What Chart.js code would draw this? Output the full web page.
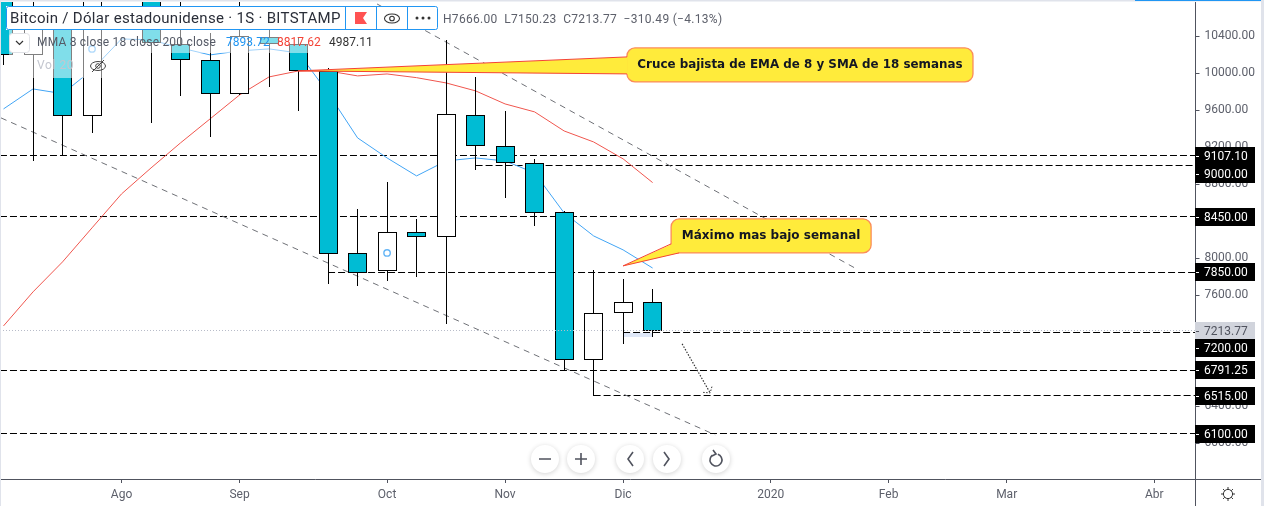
<!DOCTYPE html>
<html><head><meta charset="utf-8">
<style>html,body{margin:0;padding:0;background:#fff;overflow:hidden}canvas{display:block}</style>
<script src="https://cdn.jsdelivr.net/npm/chart.js@4"></script>
</head><body><canvas id="c" width="1264" height="506"></canvas>
<script>
// ---- data (weekly candles, index = week number) ----
const weeks  = [0,1,2,3,5,6,7,8,9,10,11,12,13,14,15,16,17,18,19,20,21,22];
const opens  = [10800,10198,10652,9533,10900,10317,10138,9771,10392,10320,10019,8054,7860,8281,8234,9546,9211,9027,8501,6897,7406,7524.26];
const closes = [10198,10652,9533,10850,10331,10138,9771,10403,10311,10019,8047,7844,8281,8234,9557,9211,9027,8493,6897,7406,7524.26,7213.77];
const highs  = [10900,10900,10700,10900,11000,10900,10436,10900,10479,10392,10052,8533,8825,8422,10357,9960,9592,9074,8510,7870,7776,7666];
const lows   = [10090,9052,9106,9355,9463,9755,9311,9765,9852,9592,7726,7701,7755,7801,7287,8955,8655,8349,6779,6508,7077,7150.23];
const maWeeks = [0,1,2,3,4,5,6,7,8,9,10,11,12,13,14,15,16,17,18,19,20,21,22];
const ma8  = [9614,9830,9779,10036,10371,10360,10274,10198,10241,10263,10219,9787,9301,9084,8890,9052,9084,9052,8922,8490,8241,8090,7893.72];
const ma18 = [7268,7636,7960,8328,8695,8976,9247,9506,9765,9960,10025,10025,9971,9992,9952,9895,9809,9668,9582,9376,9257,9074,8817.62];
const levelPrices = [9107.10,9000,8450,7850,7200,6791.25,6515,6100];
const levelStarts = [-0.12,16,-0.12,11,21,-0.12,20,-0.12];
const levelLabels = ['9107.10','9000.00','8450.00','7850.00','7200.00','6791.25','6515.00','6100.00'];
const lastPrice = 7213.77;
const trendUpperX = [12.66,28.97];
const trendUpperY = [10749,7874];
const trendLowerX = [-0.085,24.12];
const trendLowerY = [9517,6090];
const arrowX = [23.0,23.95];
const arrowY = [7074,6544];
const markerX = [3,13];
const markerY = [10263,8057];
const yTicks = [6000,6400,6800,7200,7600,8000,8400,8800,9200,9600,10000,10400];
const xTickValues = [4,8,13,17,21,26,30,34,39];
const xTickLabels = ['Ago','Sep','Oct','Nov','Dic','2020','Feb','Mar','Abr'];
const calloutTexts = ['Cruce bajista de EMA de 8 y SMA de 18 semanas','Máximo mas bajo semanal'];
const calloutTipX = [9.98,21];
const calloutTipY = [10025,7917];

// ---- layout & style ----
const xMin=-0.119, xMax=40.4, yMax=10770, yMin=5613;
const labelShift={ '9000.00':8, '7200.00':16 };
const UI='Roboto, sans-serif';
const pts=(xs,ys)=>xs.map((x,i)=>({x,y:ys[i]}));
const lineDs=(data,color,extra)=>Object.assign({type:'line',data,borderColor:color,borderWidth:1,pointRadius:0,fill:false,tension:0,order:5},extra||{});

const datasets=[];
// bodies & wicks
datasets.push({type:'bar',data:weeks.map((w,i)=>({x:w,y:[opens[i],closes[i]]})),barThickness:19,grouped:false,inflateAmount:0,
  backgroundColor:c=>c.raw.y[1]>=c.raw.y[0]?'#ffffff':'#00bcd4',borderColor:'#000',borderWidth:1,borderSkipped:false,order:1});
datasets.push({type:'bar',data:weeks.map((w,i)=>({x:w,y:[lows[i],highs[i]]})),barThickness:1,grouped:false,inflateAmount:0,
  backgroundColor:'#000',borderWidth:0,order:2});
// MAs
datasets.push(lineDs(pts(maWeeks,ma8),'#42a5f5',{order:4}));
datasets.push(lineDs(pts(maWeeks,ma18),'#f0564e',{order:4}));
// levels
levelPrices.forEach((p,i)=>datasets.push(lineDs([{x:levelStarts[i],y:p},{x:xMax,y:p}],'#000',{borderDash:[7,3],crisp:true,order:6})));
// trends
datasets.push(lineDs(pts(trendUpperX,trendUpperY),'#6f7177',{borderDash:[6,5],order:3}));
datasets.push(lineDs(pts(trendLowerX,trendLowerY),'#6f7177',{borderDash:[6,5],order:3}));
// small highlight
datasets.push(lineDs([{x:21,y:7170},{x:22,y:7170}],'#dfe8f8',{borderWidth:4,order:7}));
// last price line
datasets.push(lineDs([{x:xMin,y:lastPrice},{x:xMax,y:lastPrice}],'#b8bcc9',{borderDash:[1,2],crisp:true,order:0}));
// arrow
datasets.push(lineDs(pts(arrowX,arrowY),'#333',{borderDash:[1.5,1.5],borderWidth:1.2,order:0}));
// markers
datasets.push({type:'line',data:pts(markerX,markerY),showLine:false,pointRadius:3.2,pointBorderWidth:1.4,pointBackgroundColor:'rgba(255,255,255,0)',pointBorderColor:'#64b5f6',order:0});

function rr(ctx,x,y,w,h,r){ctx.beginPath();ctx.roundRect(x,y,w,h,r);}
function txt(ctx,s,x,y,font,color,align,sp){ctx.font=font;ctx.letterSpacing=sp||'0px';ctx.fillStyle=color;ctx.textAlign=align||'left';ctx.textBaseline='middle';ctx.fillText(s,x,y);ctx.letterSpacing='0px';}

const overlay={id:'overlay',
 beforeDatasetsDraw(chart){
  chart.getSortedVisibleDatasetMetas().forEach(m=>{
    const ds=chart.data.datasets[m.index];
    if(m.type==='bar'){m.data.forEach(el=>{el.x=Math.round(el.x-.5)+.5;el.y=Math.round(el.y);el.base=Math.round(el.base);});}
    else if(ds.crisp){m.data.forEach(el=>{el.y=Math.round(el.y-.5)+.5;});}
  });
 },
 afterDraw(chart){
  const ctx=chart.ctx,X=chart.scales.x,Y=chart.scales.y;
  ctx.save();
  // arrow head
  const ax=X.getPixelForValue(arrowX[1]),ay=Y.getPixelForValue(arrowY[1]);
  ctx.strokeStyle='#333';ctx.lineWidth=1;ctx.setLineDash([1.5,1.5]);
  ctx.beginPath();ctx.moveTo(ax-7,ay-0.5);ctx.lineTo(ax,ay);ctx.lineTo(ax+2,ay-7);ctx.stroke();ctx.setLineDash([]);

  // callouts
  const boxes=[[329,675,-23,11,[[329,-14],[329,3]]],[48,248,-47,-13,[[48,-22],[56,-13]]]];
  calloutTexts.forEach((t,i)=>{
    const tx=X.getPixelForValue(calloutTipX[i]),ty=Y.getPixelForValue(calloutTipY[i]);
    const b=boxes[i],l=tx+b[0],r=tx+b[1],tp=ty+b[2],bt=ty+b[3];
    ctx.fillStyle='#ffeb3b';
    rr(ctx,l,tp,r-l,bt-tp,8);ctx.fill();ctx.strokeStyle='#fb8c5a';ctx.lineWidth=1.3;ctx.stroke();
    ctx.beginPath();ctx.moveTo(tx+b[4][0][0]+1,ty+b[4][0][1]);ctx.lineTo(tx,ty);ctx.lineTo(tx+b[4][1][0]+(i?0:1),ty+b[4][1][1]);ctx.closePath();
    ctx.fillStyle='#ffeb3b';ctx.fill();
    ctx.strokeStyle='#f44336';ctx.lineWidth=1;
    ctx.beginPath();ctx.moveTo(tx+b[4][0][0],ty+b[4][0][1]);ctx.lineTo(tx,ty);ctx.lineTo(tx+b[4][1][0],ty+b[4][1][1]);ctx.stroke();
    txt(ctx,t,(l+r)/2,(tp+bt)/2,(i?'bold 12px':'bold 11.9px')+' "DejaVu Sans"','#131722','center');
  });

  // translucent legend rows
  ctx.fillStyle='rgba(255,255,255,.5)';
  ctx.fillRect(9,30,367,23);ctx.fillRect(9,53,103,25);
  // chevron button
  ctx.fillStyle='#fff';rr(ctx,9.5,33.5,20,19,3);ctx.fill();ctx.strokeStyle='#dfe1e6';ctx.lineWidth=1;ctx.stroke();
  ctx.strokeStyle='#333';ctx.lineWidth=1.2;ctx.beginPath();ctx.moveTo(16,41);ctx.lineTo(19.5,44.5);ctx.lineTo(23,41);ctx.stroke();
  // legend text
  txt(ctx,'MMA 8 close 18 close 200 close',37,43,'12px '+UI,'#555a66','left','0.2px');
  txt(ctx,'7893.72',226,43,'12px '+UI,'#2196f3');
  txt(ctx,'8817.62',277,43,'12px '+UI,'#f44336');
  txt(ctx,'4987.11',329,43,'12px '+UI,'#333');
  txt(ctx,'Vol 20',37,66,'12px '+UI,'#c3c6cf','left','0.6px');
  // eye crossed
  ctx.strokeStyle='#444';ctx.lineWidth=1;ctx.beginPath();ctx.ellipse(98,66,7.5,4.5,0,0,Math.PI*2);ctx.stroke();
  ctx.beginPath();ctx.arc(98,66,2.3,0,Math.PI*2);ctx.stroke();
  ctx.beginPath();ctx.moveTo(92,72);ctx.lineTo(104,60);ctx.stroke();

  // title box
  ctx.fillStyle='#fff';ctx.fillRect(6,6,432,24);
  rr(ctx,6.5,6.5,431,23,2);ctx.strokeStyle='#2196f3';ctx.lineWidth=1;ctx.stroke();
  [345.5,376.5,407.5].forEach(x=>{ctx.beginPath();ctx.moveTo(x,6);ctx.lineTo(x,30);ctx.stroke();});
  txt(ctx,'Bitcoin / Dólar estadounidense · 1S · BITSTAMP',10,19,'15px '+UI,'#2a2e39','left','0.3px');
  // flag
  ctx.fillStyle='#ff5252';ctx.beginPath();ctx.moveTo(355,12);ctx.lineTo(367,12);ctx.lineTo(363,18);ctx.lineTo(367,24);ctx.lineTo(355,24);ctx.closePath();ctx.fill();
  // eye
  ctx.strokeStyle='#333';ctx.lineWidth=1.1;ctx.beginPath();ctx.ellipse(392,18.5,7.5,4.5,0,0,Math.PI*2);ctx.stroke();
  ctx.beginPath();ctx.arc(392,18.5,2.3,0,Math.PI*2);ctx.stroke();
  // dots
  ctx.fillStyle='#333';[417,423,429].forEach(x=>{ctx.beginPath();ctx.arc(x,18,1.5,0,Math.PI*2);ctx.fill();});
  txt(ctx,'H7666.00  L7150.23  C7213.77  −310.49 (−4.13%)',443,19.5,'12px '+UI,'#5d606b','left','0.3px');

  // axis frame
  ctx.strokeStyle='#50535e';ctx.lineWidth=1;
  ctx.beginPath();ctx.moveTo(1195.5,2);ctx.lineTo(1195.5,506);ctx.moveTo(0,479.5);ctx.lineTo(1261,479.5);ctx.stroke();

  // price labels
  const drawLabel=(s,cy,bg,fg)=>{
    ctx.fillStyle=bg;ctx.fillRect(1195,cy-9,60,18);
    ctx.strokeStyle=fg;ctx.lineWidth=1;ctx.beginPath();ctx.moveTo(1196,cy+.5);ctx.lineTo(1199,cy+.5);ctx.stroke();
    txt(ctx,s,1204,cy+.5,'12px '+UI,fg);
  };
  drawLabel(lastPrice.toFixed(2),Math.round(Y.getPixelForValue(lastPrice)),'#d1d4dc','#50535e');
  levelPrices.forEach((p,i)=>{
    const s=levelLabels[i];
    drawLabel(s,Math.round(Y.getPixelForValue(p))+(labelShift[s]||0),'#000','#fff');
  });

  // nav buttons
  const cy=459;
  [545,581,630,667,716].forEach(x=>{
    ctx.save();ctx.shadowColor='rgba(0,0,0,.18)';ctx.shadowBlur=5;ctx.shadowOffsetY=1;
    ctx.fillStyle='#fff';ctx.beginPath();ctx.arc(x,cy,14,0,Math.PI*2);ctx.fill();ctx.restore();
  });
  ctx.strokeStyle='#50535e';ctx.lineWidth=1.6;
  ctx.beginPath();
  ctx.moveTo(539,cy);ctx.lineTo(551,cy);
  ctx.moveTo(575,cy);ctx.lineTo(587,cy);ctx.moveTo(581,cy-6);ctx.lineTo(581,cy+6);
  ctx.moveTo(633,cy-7);ctx.lineTo(628,cy);ctx.lineTo(633,cy+7);
  ctx.moveTo(664,cy-7);ctx.lineTo(669,cy);ctx.lineTo(664,cy+7);
  ctx.stroke();
  ctx.beginPath();ctx.arc(716,cy+1,6,-Math.PI*0.4,Math.PI*1.3);ctx.stroke();
  ctx.beginPath();ctx.moveTo(713,cy-9);ctx.lineTo(716,cy-5);ctx.lineTo(712,cy-3);ctx.stroke();

  // sun icon
  ctx.strokeStyle='#333';ctx.lineWidth=1;
  ctx.beginPath();ctx.arc(1228,494,4.6,0,Math.PI*2);ctx.stroke();
  for(let k=0;k<8;k++){const a=k*Math.PI/4;ctx.beginPath();ctx.moveTo(1228+Math.cos(a)*4.6,494+Math.sin(a)*4.6);ctx.lineTo(1228+Math.cos(a)*7,494+Math.sin(a)*7);ctx.stroke();}

  // window edges
  ctx.fillStyle='#e0e3eb';ctx.fillRect(0,0,1264,1.5);ctx.fillRect(0,0,1,506);ctx.fillRect(1261,0,3,506);
  ctx.fillStyle='#2196f3';ctx.fillRect(1135,0,126,1);
  ctx.restore();
 }};

new Chart(document.getElementById('c'),{
 type:'bar',
 data:{datasets},
 options:{responsive:false,animation:false,devicePixelRatio:1,
  layout:{autoPadding:false,padding:{top:2,left:0,right:0,bottom:0}},
  plugins:{legend:{display:false},tooltip:{enabled:false}},
  events:[],
  scales:{
   x:{type:'linear',min:xMin,max:xMax,offset:false,stacked:false,
     grid:{offset:false,drawOnChartArea:false,drawTicks:true,tickLength:4,color:'#50535e'},border:{display:false},
     afterBuildTicks(a){a.ticks=xTickValues.map(v=>({value:v}));},
     afterFit(a){a.height=27;a.paddingLeft=0;a.paddingRight=0;},
     ticks:{autoSkip:false,maxRotation:0,padding:5,color:'#5d606b',font:{family:'Roboto',size:12},
       callback:v=>xTickLabels[xTickValues.indexOf(v)]||''}},
   y:{type:'linear',position:'right',min:yMin,max:yMax,
     grid:{drawOnChartArea:false,drawTicks:true,tickLength:4,color:'#50535e'},border:{display:false},
     afterBuildTicks(a){a.ticks=yTicks.map(v=>({value:v}));},
     afterFit(a){a.width=68.5;a.paddingTop=0;a.paddingBottom=0;},
     ticks:{autoSkip:false,padding:5,color:'#5d606b',font:{family:'Roboto',size:12},
       callback:v=>Number(v).toFixed(2)}}
  }},
 plugins:[overlay]
});
</script></body></html>
